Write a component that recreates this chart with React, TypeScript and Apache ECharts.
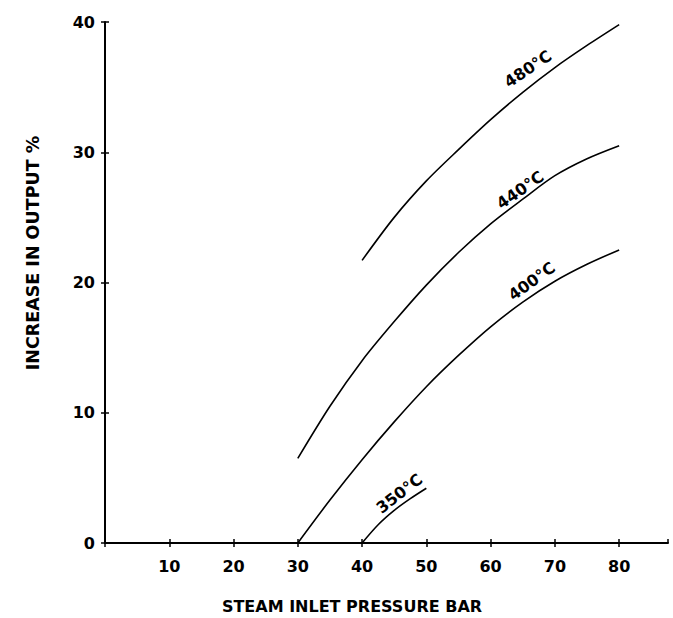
import React, { useEffect, useRef } from "react";
import * as echarts from "echarts";

const pressure480 = [40, 45, 50, 55, 60, 65, 70, 75, 80];
const output480 = [21.7, 25, 27.8, 30.2, 32.5, 34.6, 36.5, 38.2, 39.8];

const pressure440 = [30, 35, 40, 45, 50, 55, 60, 65, 70, 75, 80];
const output440 = [6.5, 10.5, 14, 17, 19.8, 22.3, 24.5, 26.4, 28.2, 29.5, 30.5];

const pressure400 = [30, 35, 40, 45, 50, 55, 60, 65, 70, 75, 80];
const output400 = [0, 3.3, 6.4, 9.3, 12.0, 14.4, 16.6, 18.5, 20.1, 21.4, 22.5];

const pressure350 = [40, 42.5, 45, 47.5, 50];
const output350 = [0, 1.4, 2.5, 3.4, 4.2];

const curveNames = ["480°C", "440°C", "400°C", "350°C"];
const labelX = [65.8, 64.6, 66.4, 45.8];
const labelY = [36.4, 27.1, 20.1, 3.8];
const labelAngle = [34, 35, 36, 38];

const xTicks = [10, 20, 30, 40, 50, 60, 70, 80];
const yTicks = [0, 10, 20, 30, 40];

const FONT = "'DejaVu Sans', sans-serif";

function pairs(xs: number[], ys: number[]) {
  return xs.map((x, i) => [x, ys[i]]);
}

export default function App() {
  const ref = useRef<HTMLDivElement>(null);
  useEffect(() => {
    if (!ref.current) return;
    const chart = echarts.init(ref.current, undefined, { renderer: "svg" });
    const lineStyle = { color: "#000", width: 1.6 };
    const mk = (name: string, xs: number[], ys: number[]) => ({
      type: "line",
      name,
      xAxisIndex: 0,
      yAxisIndex: 0,
      data: pairs(xs, ys),
      smooth: 0.3,
      showSymbol: false,
      symbol: "none",
      lineStyle,
      silent: true,
    });
    const axisLabelStyle = {
      color: "#000",
      fontFamily: FONT,
      fontWeight: "bold",
      fontSize: 16,
    };
    chart.setOption({
      animation: false,
      backgroundColor: "#fff",
      grid: { left: 105, right: 5, top: 22, bottom: 75, containLabel: false },
      xAxis: [
        {
          type: "value",
          min: 0,
          max: 87.6,
          interval: 10,
          position: "bottom",
          axisLine: { show: true, onZero: false, lineStyle: { color: "#000", width: 2 } },
          axisTick: { show: true, inside: false, length: 4, lineStyle: { color: "#000", width: 1.5 } },
          axisLabel: {
            ...axisLabelStyle,
            margin: 15,
            showMaxLabel: false,
            formatter: (v: number) => (xTicks.indexOf(v) >= 0 ? String(v) : ""),
          },
          splitLine: { show: false },
        },
        {
          type: "value",
          min: 0,
          max: 87.6,
          interval: 10,
          position: "bottom",
          offset: 0,
          axisLine: { show: false },
          axisTick: { show: true, inside: true, length: 4, lineStyle: { color: "#000", width: 1.5 } },
          axisLabel: { show: false },
          splitLine: { show: false },
        },
      ],
      yAxis: [
        {
          type: "value",
          min: 0,
          max: 40,
          interval: 10,
          position: "left",
          axisLine: { show: true, onZero: false, lineStyle: { color: "#000", width: 2 } },
          axisTick: { show: true, inside: false, length: 4, lineStyle: { color: "#000", width: 1.5 } },
          axisLabel: {
            ...axisLabelStyle,
            margin: 10,
            formatter: (v: number) => (yTicks.indexOf(v) >= 0 ? String(v) : ""),
          },
          splitLine: { show: false },
        },
        {
          type: "value",
          min: 0,
          max: 40,
          interval: 10,
          position: "left",
          offset: 0,
          axisLine: { show: false },
          axisTick: { show: true, inside: true, length: 4, lineStyle: { color: "#000", width: 1.5 } },
          axisLabel: { show: false },
          splitLine: { show: false },
        },
      ],
      series: [
        mk(curveNames[0], pressure480, output480),
        mk(curveNames[1], pressure440, output440),
        mk(curveNames[2], pressure400, output400),
        mk(curveNames[3], pressure350, output350),
      ],
    });

    const labels = curveNames.map((name, i) => {
      const p = chart.convertToPixel({ xAxisIndex: 0, yAxisIndex: 0 }, [labelX[i], labelY[i]]) as number[];
      return {
        type: "text",
        x: p[0],
        y: p[1],
        rotation: (labelAngle[i] * Math.PI) / 180,
        silent: true,
        style: {
          text: name,
          fill: "#000",
          font: `bold 16px ${FONT}`,
          align: "center",
          verticalAlign: "middle",
        },
      };
    });

    chart.setOption({
      graphic: [
        ...labels,
        {
          type: "text",
          x: 352,
          y: 606,
          silent: true,
          style: {
            text: "STEAM INLET PRESSURE BAR",
            fill: "#000",
            font: `bold 16px ${FONT}`,
            align: "center",
            verticalAlign: "middle",
          },
        },
        {
          type: "text",
          x: 33,
          y: 253,
          rotation: Math.PI / 2,
          silent: true,
          style: {
            text: "INCREASE IN OUTPUT %",
            fill: "#000",
            font: `bold 17.5px ${FONT}`,
            align: "center",
            verticalAlign: "middle",
          },
        },
      ],
    });

    return () => chart.dispose();
  }, []);
  return <div ref={ref} style={{ width: 673, height: 618, position: "absolute", left: 0, top: 0 }} />;
}
